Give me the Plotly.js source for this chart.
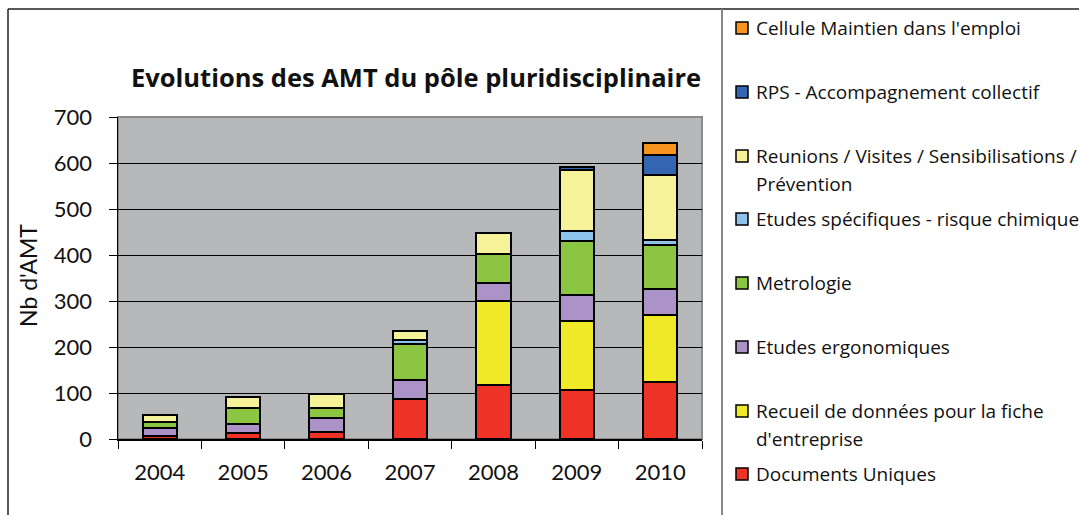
<!DOCTYPE html>
<html>
<head>
<meta charset="utf-8">
<script src="https://cdn.plot.ly/plotly-3.0.1.min.js"></script>
<style>html,body{margin:0;padding:0;background:#fff;}#chart{width:1079px;height:515px;}</style>
</head>
<body>
<div id="chart"></div>
<script>
// ---- data ----
const years = ['2004', '2005', '2006', '2007', '2008', '2009', '2010'];
const documentsUniques = [7, 12, 16, 88, 117, 107, 125];
const recueilDonnees = [0, 0, 0, 0, 182, 149, 144];
const etudesErgonomiques = [17, 21, 30, 41, 40, 56, 57];
const metrologie = [14, 35, 22, 78, 64, 118, 96];
const etudesChimique = [0, 0, 0, 9, 0, 22, 10];
const reunions = [14, 24, 29, 18, 45, 133, 141];
const rpsCollectif = [0, 0, 0, 0, 0, 7, 44];
const celluleMaintien = [0, 0, 0, 0, 0, 0, 26];

const seriesNames = [
  'Documents Uniques',
  "Recueil de données pour la fiche<br>d'entreprise",
  'Etudes ergonomiques',
  'Metrologie',
  'Etudes spécifiques - risque chimique',
  'Reunions / Visites / Sensibilisations /<br>Prévention',
  'RPS - Accompagnement collectif',
  "Cellule Maintien dans l'emploi"
];
const seriesValues = [documentsUniques, recueilDonnees, etudesErgonomiques, metrologie,
  etudesChimique, reunions, rpsCollectif, celluleMaintien];

// ---- styles ----
const seriesColors = ['#EE3226', '#EFE927', '#AC93C7', '#8CC541', '#8DC2EA', '#F5F299', '#3465B2', '#F7941E'];
const FONT = 'Lato, "Open Sans", sans-serif';
const FONT2 = '"Open Sans", Lato, sans-serif';
const L = 118, R = 702, T = 117, B = 439;
const px2x = p => (p - L) / (R - L);
const px2y = p => (B - p) / (B - T);

const traces = seriesValues.map((vals, i) => ({
  type: 'bar',
  x: years,
  y: vals,
  name: seriesNames[i],
  marker: {color: seriesColors[i], line: {color: '#000', width: 2}},
  showlegend: false,
  hoverinfo: 'x+y+name'
}));

// manual legend (top to bottom = last series first)
const legendRowsY = [28, 92, 156, 219, 283, 347, 411, 474];
const shapes = [
  // plot area border
  {type: 'rect', xref: 'paper', yref: 'paper', x0: 0, x1: 1, y0: 0, y1: 1,
   line: {color: '#8a8a8a', width: 2}, layer: 'below'},
  // outer frame
  {type: 'line', xref: 'paper', yref: 'paper', x0: px2x(8), x1: px2x(1079), y0: px2y(9), y1: px2y(9),
   line: {color: '#222', width: 1.5}},
  {type: 'line', xref: 'paper', yref: 'paper', x0: px2x(8), x1: px2x(8), y0: px2y(9), y1: px2y(515),
   line: {color: '#222', width: 1.5}},
  {type: 'line', xref: 'paper', yref: 'paper', x0: px2x(722), x1: px2x(722), y0: px2y(9), y1: px2y(515),
   line: {color: '#888', width: 2}}
];
const annotations = [
  {xref: 'paper', yref: 'paper', x: px2x(28), y: px2y(276), text: "Nb d'AMT", textangle: -90,
   showarrow: false, xanchor: 'center', yanchor: 'middle', font: {family: FONT, size: 23, color: '#111'}}
];
for (let k = 0; k < seriesNames.length; k++) {
  const i = seriesNames.length - 1 - k;
  const cy = legendRowsY[k];
  shapes.push({type: 'rect', xref: 'paper', yref: 'paper',
    x0: px2x(736), x1: px2x(748), y0: px2y(cy - 6), y1: px2y(cy + 6),
    fillcolor: seriesColors[i], line: {color: '#000', width: 1.5}});
  const lines = seriesNames[i].split('<br>');
  lines.forEach((ln, j) => {
    annotations.push({xref: 'paper', yref: 'paper', x: px2x(754), y: px2y(cy + j * 28),
      text: ln, showarrow: false, xanchor: 'left', yanchor: 'middle', align: 'left',
      font: {family: FONT2, size: 19, color: '#111'}});
  });
}

const layout = {
  width: 1079, height: 515,
  margin: {l: L, r: 1079 - R, t: T, b: 515 - B, pad: 0},
  paper_bgcolor: '#ffffff',
  plot_bgcolor: '#B7B8BA',
  barmode: 'stack',
  bargap: 0.59,
  showlegend: false,
  title: {text: '<b>Evolutions des AMT du pôle pluridisciplinaire</b>', x: 416 / 1079, xanchor: 'center',
    xref: 'container', y: 1 - 78 / 515, yanchor: 'middle', yref: 'container',
    font: {family: FONT2, size: 25.5, color: '#111'}},
  xaxis: {
    type: 'category', showline: true, linecolor: '#000', linewidth: 1.5,
    ticks: 'outside', tickson: 'boundaries', ticklen: 8, tickcolor: '#000', tickwidth: 1,
    ticklabelstandoff: 13, showgrid: false,
    tickfont: {family: FONT, size: 22, color: '#111'}
  },
  yaxis: {
    range: [0, 700], dtick: 100, showline: true, linecolor: '#000', linewidth: 1.5,
    ticks: 'outside', ticklen: 8, tickcolor: '#000', tickwidth: 1,
    ticklabelstandoff: 12,
    showgrid: true, gridcolor: '#000', gridwidth: 1, zeroline: false,
    tickfont: {family: FONT, size: 22, color: '#111'}
  },
  shapes: shapes,
  annotations: annotations
};

Plotly.newPlot('chart', traces, layout, {displayModeBar: false, staticPlot: true});
</script>
</body>
</html>
